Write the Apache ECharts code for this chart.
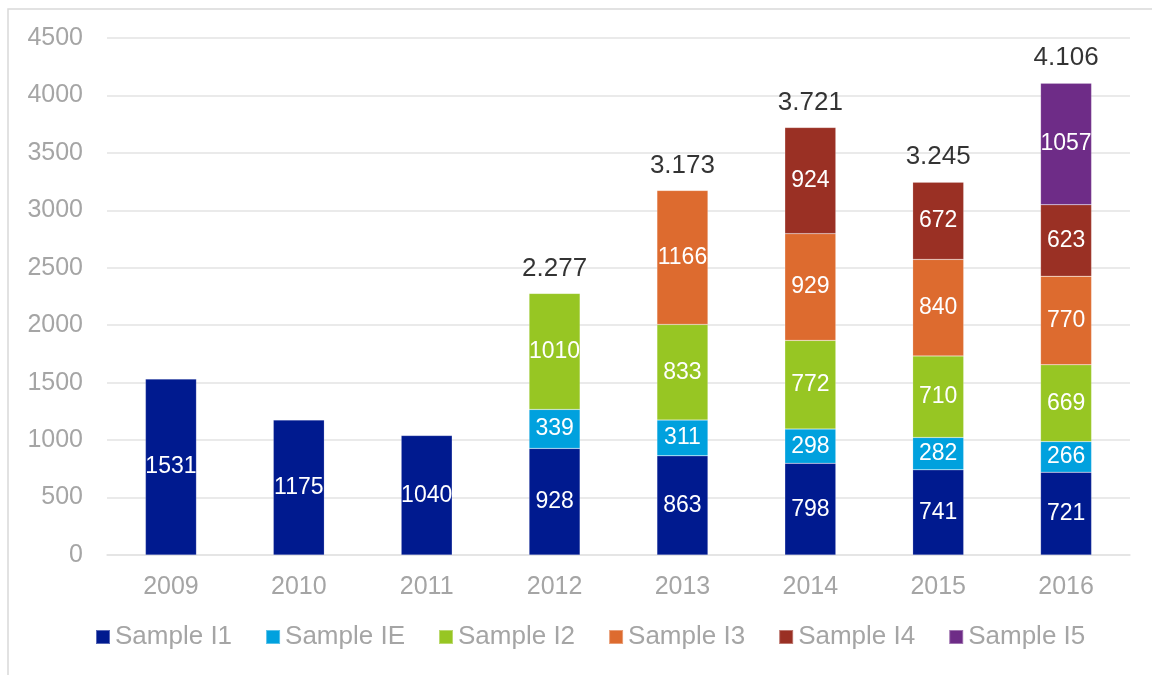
<!doctype html>
<html>
<head>
<meta charset="utf-8">
<title>Samples</title>
<script src="https://cdn.jsdelivr.net/npm/echarts@6/dist/echarts.min.js"></script>
<style>
  html, body { margin: 0; padding: 0; background: #fff; }
  #chart { width: 1152px; height: 675px; }
</style>
</head>
<body>
<div id="chart"></div>
<script>
var years = ['2009', '2010', '2011', '2012', '2013', '2014', '2015', '2016'];
var sampleI1 = [1531, 1175, 1040, 928, 863, 798, 741, 721];
var sampleIE = [null, null, null, 339, 311, 298, 282, 266];
var sampleI2 = [null, null, null, 1010, 833, 772, 710, 669];
var sampleI3 = [null, null, null, null, 1166, 929, 840, 770];
var sampleI4 = [null, null, null, null, null, 924, 672, 623];
var sampleI5 = [null, null, null, null, null, null, null, 1057];
var totals   = [null, null, null, 2277, 3173, 3721, 3245, 4106];
var yTicks = [0, 500, 1000, 1500, 2000, 2500, 3000, 3500, 4000, 4500];

var names = ['Sample I1', 'Sample IE', 'Sample I2', 'Sample I3', 'Sample I4', 'Sample I5'];
var colors = ['#001A8F', '#00A1DE', '#97C623', '#DD6B2F', '#9A3024', '#6E2C87'];
var values = [sampleI1, sampleIE, sampleI2, sampleI3, sampleI4, sampleI5];

var font = '"Liberation Sans", Arial, sans-serif';

var series = values.map(function (v, i) {
  return {
    name: names[i],
    type: 'bar',
    stack: 'total',
    barWidth: 51,
    data: v,
    itemStyle: { color: colors[i], borderColor: 'rgba(255,255,255,0.35)', borderWidth: 0.5 },
    label: {
      show: true,
      position: 'inside',
      color: '#fff',
      fontFamily: font,
      fontSize: 23
    }
  };
});

// totals above the stacks
series.push({
  name: 'Total',
  type: 'scatter',
  data: totals,
  symbolSize: 0,
  silent: true,
  label: {
    show: true,
    position: 'top',
    distance: 12,
    color: '#000',
    fontFamily: font,
    fontSize: 26,
    formatter: function (p) {
      var s = String(p.value);
      return s.slice(0, s.length - 3) + '.' + s.slice(-3);
    }
  }
});

var chart = echarts.init(document.getElementById('chart'));
chart.setOption({
  animation: false,
  textStyle: { fontFamily: font },
  graphic: [{
    type: 'rect',
    shape: { x: 8, y: 9, width: 1200, height: 700 },
    style: { fill: 'none', stroke: '#d9d9d9', lineWidth: 1.5 },
    silent: true
  }],
  grid: { left: 107, right: 22, top: 38, bottom: 120 },
  legend: {
    data: names,
    bottom: 20,
    left: 90,
    icon: 'rect',
    itemWidth: 14,
    itemHeight: 14,
    itemGap: 33,
    textStyle: { color: '#a5a5a5', fontSize: 26, fontFamily: font, padding: [0, 0, 0, 0] }
  },
  xAxis: {
    type: 'category',
    data: years,
    axisLine: { lineStyle: { color: '#e3e3e3', width: 1.5 } },
    axisTick: { show: false },
    axisLabel: { color: '#a5a5a5', fontSize: 25, fontFamily: font, margin: 20 }
  },
  yAxis: {
    type: 'value',
    min: yTicks[0],
    max: yTicks[yTicks.length - 1],
    interval: 500,
    axisLine: { show: false },
    axisTick: { show: false },
    splitLine: { lineStyle: { color: '#e3e3e3', width: 1.5 } },
    axisLabel: {
      color: '#a5a5a5', fontSize: 25, fontFamily: font, margin: 24,
      formatter: function (v) { return String(v); }
    }
  },
  series: series
});
</script>
</body>
</html>
